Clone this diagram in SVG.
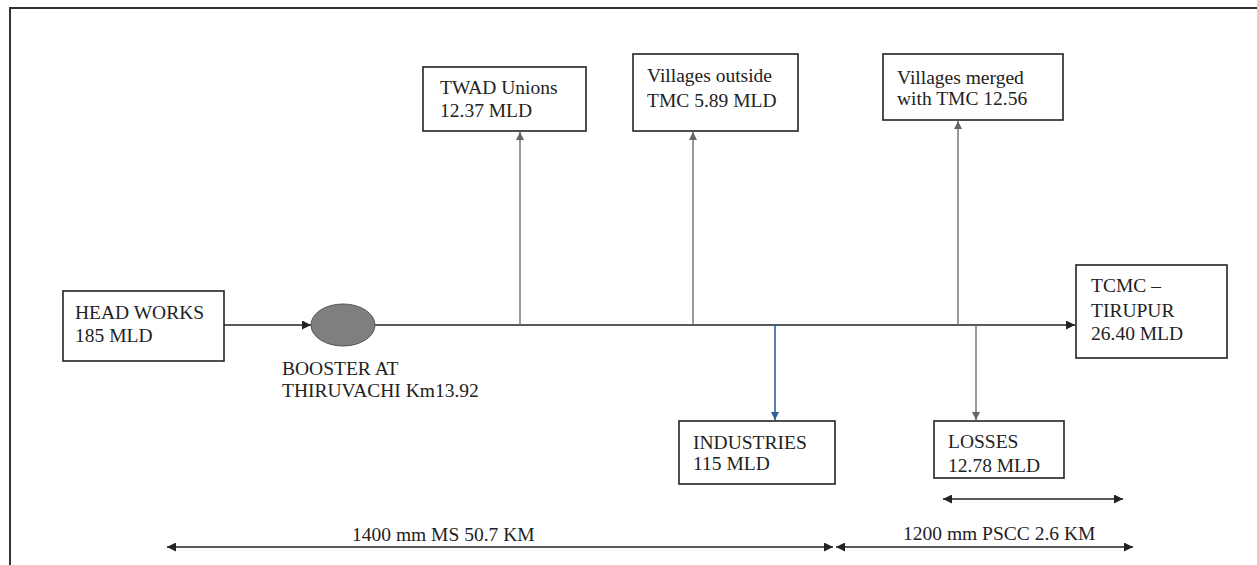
<svg xmlns="http://www.w3.org/2000/svg" width="1257" height="565" viewBox="0 0 1257 565">
<style>
.box{fill:#fff;stroke:#222;stroke-width:1.6}
.t{font-family:"Liberation Serif","Times New Roman",serif;font-size:19.5px;fill:#222}
.ln{stroke:#222;stroke-width:1.5;fill:none}
.up{stroke:#777;stroke-width:1.5;fill:none}
</style>
<defs>
<marker id="ah" viewBox="0 0 10 10" refX="10" refY="5" markerWidth="9" markerHeight="9" markerUnits="userSpaceOnUse" orient="auto-start-reverse"><path d="M0,0 L10,5 L0,10 z" fill="#222"/></marker>
<marker id="ahg" viewBox="0 0 10 10" refX="10" refY="5" markerWidth="8" markerHeight="8" markerUnits="userSpaceOnUse" orient="auto"><path d="M0,0 L10,5 L0,10 z" fill="#666"/></marker>
<marker id="ahb" viewBox="0 0 10 10" refX="10" refY="5" markerWidth="8" markerHeight="8" markerUnits="userSpaceOnUse" orient="auto"><path d="M0,0 L10,5 L0,10 z" fill="#2a5fa0"/></marker>
</defs>
<rect width="1257" height="565" fill="#fff"/>
<path d="M10,565 V8 H1257" stroke="#333" stroke-width="2" fill="none"/>
<g id="connectors">
<line class="ln" x1="224" y1="325" x2="311" y2="325" marker-end="url(#ah)"/>
<line class="ln" x1="375" y1="325" x2="1075" y2="325" marker-end="url(#ah)"/>
<line class="up" x1="520" y1="325" x2="520" y2="132" marker-end="url(#ahg)"/>
<line class="up" x1="693" y1="325" x2="693" y2="132" marker-end="url(#ahg)"/>
<line class="up" x1="958" y1="325" x2="958" y2="121" marker-end="url(#ahg)"/>
<line x1="775" y1="325" x2="775" y2="420" stroke="#2a5fa0" stroke-width="1.6" marker-end="url(#ahb)"/>
<line class="up" x1="976" y1="325" x2="976" y2="420" marker-end="url(#ahg)"/>
<line class="ln" x1="943" y1="499" x2="1123" y2="499" marker-start="url(#ah)" marker-end="url(#ah)"/>
<line class="ln" x1="167" y1="547" x2="833" y2="547" marker-start="url(#ah)" marker-end="url(#ah)"/>
<line class="ln" x1="836" y1="547" x2="1133" y2="547" marker-start="url(#ah)" marker-end="url(#ah)"/>
</g>
<g id="head-works">
<rect class="box" x="63" y="291" width="161" height="70"/>
<text class="t" x="75" y="319">HEAD WORKS</text>
<text class="t" x="75" y="342">185 MLD</text>
</g>
<g id="booster">
<ellipse cx="343" cy="325" rx="32" ry="21" fill="#7f7f7f" stroke="#555" stroke-width="1"/>
<text class="t" x="282" y="375">BOOSTER AT</text>
<text class="t" x="282" y="397">THIRUVACHI Km13.92</text>
</g>
<g id="twad">
<rect class="box" x="423" y="67" width="163" height="64"/>
<text class="t" x="440" y="94">TWAD Unions</text>
<text class="t" x="440" y="117">12.37 MLD</text>
</g>
<g id="villages-outside">
<rect class="box" x="633" y="54" width="165" height="77"/>
<text class="t" x="647" y="82">Villages outside</text>
<text class="t" x="647" y="107">TMC 5.89 MLD</text>
</g>
<g id="villages-merged">
<rect class="box" x="883" y="54" width="180" height="66"/>
<text class="t" x="897" y="84">Villages merged</text>
<text class="t" x="897" y="105">with TMC 12.56</text>
</g>
<g id="tcmc">
<rect class="box" x="1076" y="265" width="151" height="93"/>
<text class="t" x="1091" y="292">TCMC –</text>
<text class="t" x="1091" y="317">TIRUPUR</text>
<text class="t" x="1091" y="340">26.40 MLD</text>
</g>
<g id="industries">
<rect class="box" x="679" y="421" width="156" height="63"/>
<text class="t" x="693" y="449">INDUSTRIES</text>
<text class="t" x="693" y="470">115 MLD</text>
</g>
<g id="losses">
<rect class="box" x="934" y="421" width="130" height="57"/>
<text class="t" x="948" y="448">LOSSES</text>
<text class="t" x="948" y="472">12.78 MLD</text>
</g>
<g id="labels">
<text class="t" x="352" y="541">1400 mm MS 50.7 KM</text>
<text class="t" x="903" y="540">1200 mm PSCC 2.6 KM</text>
</g>
</svg>
